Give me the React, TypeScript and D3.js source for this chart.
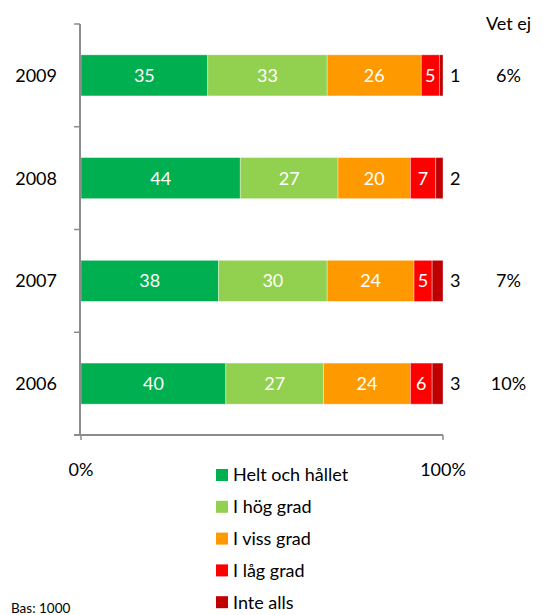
import React from "react";
import * as d3 from "d3";

const years = ["2009", "2008", "2007", "2006"];
const seriesNames = ["Helt och hållet", "I hög grad", "I viss grad", "I låg grad", "Inte alls"];
const seriesColors = ["#00B050", "#92D050", "#FF9900", "#FF0000", "#C00000"];
const heltOchHallet = [35, 44, 38, 40];
const iHogGrad = [33, 27, 30, 27];
const iVissGrad = [26, 20, 24, 24];
const iLagGrad = [5, 7, 5, 6];
const inteAlls = [1, 2, 3, 3];
const vetEj = ["6%", "", "7%", "10%"];
const xTickLabels = ["0%", "100%"];

const W = 543;
const H = 615;
const FONT = "Lato, 'Open Sans', sans-serif";
const FS = 18;

export default function App() {
  const x = d3.scaleLinear().domain([0, 100]).range([81, 443]);
  const y = d3.scaleBand<string>().domain(years).range([24, 435]).paddingInner(0).paddingOuter(0);
  const bw = y.bandwidth();
  const barH = bw * 0.4;
  const series = [heltOchHallet, iHogGrad, iVissGrad, iLagGrad, inteAlls];
  const rows = years.map((yr, i) => {
    const vals = series.map((s) => s[i]);
    const total = d3.sum(vals);
    const norm = vals.map((v) => (v / total) * 100);
    const cum = d3.cumsum(norm);
    return { yr, vals, segs: norm.map((n, j) => ({ x0: cum[j] - n, x1: cum[j], v: vals[j], j })) };
  });
  const edges = [...years.map((yr) => y(yr) as number), 435];
  const axisColor = "#8C8C8C";

  return (
    <svg width={W} height={H} style={{ position: "absolute", left: 0, top: 0, background: "#fff" }} fontFamily={FONT}>
      {rows.map((r) => {
        const top = (y(r.yr) as number) + (bw - barH) / 2;
        const cy = (y(r.yr) as number) + bw / 2;
        return (
          <g key={r.yr}>
            {r.segs.map((s) => (
              <rect key={s.j} x={x(s.x0)} y={top} width={x(s.x1) - x(s.x0)} height={barH} fill={seriesColors[s.j]} stroke="rgba(255,255,255,0.45)" strokeWidth={0.8} />
            ))}
            {r.segs.slice(0, 4).map((s) => (
              <text key={"l" + s.j} x={(x(s.x0) + x(s.x1)) / 2} y={cy} dy="0.36em" textAnchor="middle" fill="#fff" fontSize={FS}>
                {s.v}
              </text>
            ))}
            <text x={450} y={cy} dy="0.36em" fontSize={FS} fill="#000">
              {r.segs[4].v}
            </text>
            <text x={508.5} y={cy} dy="0.36em" textAnchor="middle" fontSize={FS} fill="#000">
              {vetEj[years.indexOf(r.yr)]}
            </text>
            <text x={57} y={cy} dy="0.36em" textAnchor="end" fontSize={FS} fill="#000">
              {r.yr}
            </text>
          </g>
        );
      })}
      <line x1={80} x2={80} y1={24} y2={435} stroke={axisColor} strokeWidth={2} />
      {edges.map((e, i) => (
        <line key={i} x1={74} x2={80} y1={e} y2={e} stroke={axisColor} strokeWidth={1.5} />
      ))}
      <line x1={74} x2={443} y1={435} y2={435} stroke={axisColor} strokeWidth={2} />
      {[0, 100].map((t) => (
        <line key={t} x1={x(t)} x2={x(t)} y1={435} y2={440} stroke={axisColor} strokeWidth={1.5} />
      ))}
      {[0, 100].map((t, i) => (
        <text key={"t" + t} x={x(t)} y={470} dy="0.36em" textAnchor="middle" fontSize={FS} fill="#000">
          {xTickLabels[i]}
        </text>
      ))}
      <text x={508.5} y={24} dy="0.36em" textAnchor="middle" fontSize={FS} fill="#000">Vet ej</text>
      {seriesNames.map((n, i) => (
        <g key={n}>
          <rect x={216} y={469 + i * 31.8} width={12} height={12} fill={seriesColors[i]} />
          <text x={233} y={475 + i * 31.8} dy="0.36em" fontSize={FS} fill="#000">{n}</text>
        </g>
      ))}
      <text x={11} y={613} fontSize={13.5} fill="#000">Bas: 1000</text>
    </svg>
  );
}
